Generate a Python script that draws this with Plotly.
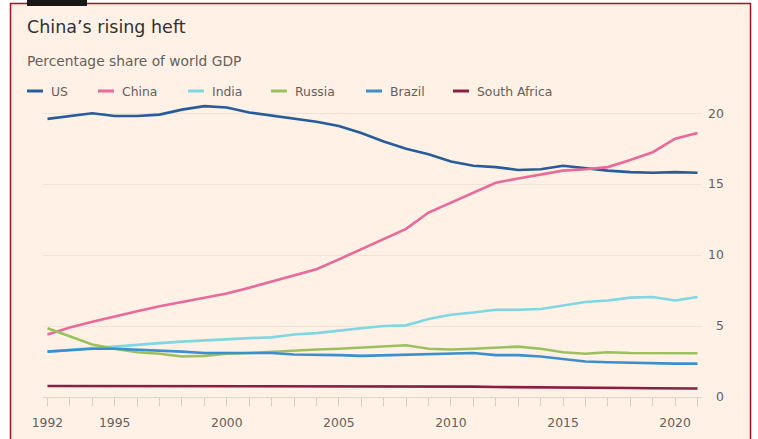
import plotly.graph_objects as go

years = list(range(1992, 2022))

us = [19.6, 19.8, 20.0, 19.8, 19.8, 19.9, 20.25, 20.5, 20.4, 20.05, 19.85, 19.6, 19.4, 19.1, 18.6,
      18.0, 17.5, 17.1, 16.6, 16.3, 16.2, 16.0, 16.05, 16.3, 16.1, 15.95, 15.85, 15.8, 15.85, 15.8]
china = [4.4, 4.9, 5.3, 5.7, 6.05, 6.4, 6.7, 7.0, 7.3, 7.7, 8.15, 8.6, 9.0, 9.7, 10.4,
         11.1, 11.85, 13.0, 13.7, 14.45, 15.1, 15.4, 15.65, 15.95, 16.05, 16.2, 16.7, 17.25, 18.2, 18.6]
india = [3.2, 3.35, 3.45, 3.55, 3.7, 3.8, 3.9, 4.0, 4.05, 4.15, 4.2, 4.4, 4.5, 4.7, 4.85,
         5.0, 5.05, 5.5, 5.8, 5.95, 6.15, 6.15, 6.2, 6.45, 6.7, 6.8, 7.0, 7.05, 6.8, 7.05]
russia = [4.85, 4.3, 3.7, 3.4, 3.15, 3.05, 2.85, 2.9, 3.05, 3.1, 3.2, 3.3, 3.35, 3.4, 3.5,
          3.6, 3.65, 3.4, 3.35, 3.4, 3.45, 3.55, 3.4, 3.15, 3.05, 3.15, 3.1, 3.1, 3.1, 3.08]
brazil = [3.2, 3.3, 3.4, 3.4, 3.35, 3.3, 3.2, 3.1, 3.1, 3.1, 3.1, 3.0, 3.0, 2.95, 2.9,
          2.95, 3.0, 3.0, 3.1, 3.1, 2.95, 2.95, 2.85, 2.65, 2.5, 2.45, 2.4, 2.35, 2.35, 2.35]
south_africa = [0.78, 0.78, 0.77, 0.77, 0.77, 0.77, 0.75, 0.74, 0.74, 0.73, 0.73, 0.74, 0.74, 0.75, 0.75,
                0.75, 0.74, 0.74, 0.74, 0.73, 0.70, 0.68, 0.68, 0.67, 0.65, 0.63, 0.63, 0.62, 0.61, 0.60]

series_names = ["US", "China", "India", "Russia", "Brazil", "South Africa"]
series_values = [us, china, india, russia, brazil, south_africa]
colors = ["#265c9b", "#e8699a", "#80d6e2", "#9cc05d", "#3a8fd1", "#8a1f45"]

x_tickvals = [1992, 1995, 2000, 2005, 2010, 2015, 2020]
y_tickvals = [0, 5, 10, 15, 20]
FS = "\u2007"
y_ticktext = [FS + "0", FS + "5", "10", "15", "20"]

W, H = 758, 439
ML, MR, MT, MB = 43, 56, 99, 42
PW, PH = W - ML - MR, H - MT - MB


def px(x):
    return (x - ML) / PW


def py(y):
    return (H - MB - y) / PH


FONT = "DejaVu Sans"
GREY = "#66605c"

fig = go.Figure()
for name, vals, col in zip(series_names, series_values, colors):
    fig.add_trace(go.Scatter(x=years, y=vals, mode="lines", name=name,
                             line=dict(color=col, width=2.6), showlegend=False))

shapes = [
    dict(type="rect", xref="paper", yref="paper", x0=px(10.5), x1=px(750.5), y0=py(460), y1=py(3.5),
         fillcolor="#fff1e5", line=dict(color="#a8141c", width=1.5), layer="below"),
    dict(type="rect", xref="paper", yref="paper", x0=px(27), x1=px(87), y0=py(6), y1=py(-2),
         fillcolor="#1a1717", line=dict(width=0), layer="below"),
]
annotations = [
    dict(text="China’s rising heft", xref="paper", yref="paper", x=px(25), y=py(27),
         xanchor="left", yanchor="middle", showarrow=False,
         font=dict(family=FONT, size=17.5, color="#33302e")),
    dict(text="Percentage share of world GDP", xref="paper", yref="paper", x=px(25), y=py(61),
         xanchor="left", yanchor="middle", showarrow=False,
         font=dict(family=FONT, size=13.8, color=GREY)),
]

legend_x = [27, 98, 188, 271, 366, 453]
for name, col, lx in zip(series_names, colors, legend_x):
    shapes.append(dict(type="line", xref="paper", yref="paper", x0=px(lx), x1=px(lx + 16),
                       y0=py(91), y1=py(91), line=dict(color=col, width=3)))
    annotations.append(dict(text=name, xref="paper", yref="paper", x=px(lx + 22), y=py(91),
                            xanchor="left", yanchor="middle", showarrow=False,
                            font=dict(family=FONT, size=12.4, color=GREY)))

fig.update_layout(
    width=W, height=H,
    margin=dict(l=ML, r=MR, t=MT, b=MB, pad=0, autoexpand=False),
    paper_bgcolor="#ffffff",
    plot_bgcolor="rgba(0,0,0,0)",
    shapes=shapes,
    annotations=annotations,
    showlegend=False,
    xaxis=dict(range=[1991.8, 2021.2], tickvals=x_tickvals, ticktext=[str(v) for v in x_tickvals],
               automargin=False,
               ticks="outside", ticklen=8, tickcolor="#d8ccc1", tickwidth=1,
               minor=dict(dtick=1, tick0=1992, ticks="outside", ticklen=8, tickcolor="#d8ccc1", showgrid=False),
               showgrid=False, zeroline=False, showline=True, linecolor="#e2d6cb", linewidth=1,
               tickfont=dict(family=FONT, size=12.4, color=GREY), ticklabelstandoff=6),
    yaxis=dict(range=[0, 21], side="right", tickvals=y_tickvals, ticktext=y_ticktext,
               automargin=False,
               showgrid=True, gridcolor="#ede3d9", gridwidth=1, zeroline=False, showline=False,
               ticks="", ticklabelstandoff=5,
               tickfont=dict(family=FONT, size=12.4, color=GREY)),
)

fig.write_html("out.html", config={"displayModeBar": False},
               post_script="document.body.style.margin='0px';")
